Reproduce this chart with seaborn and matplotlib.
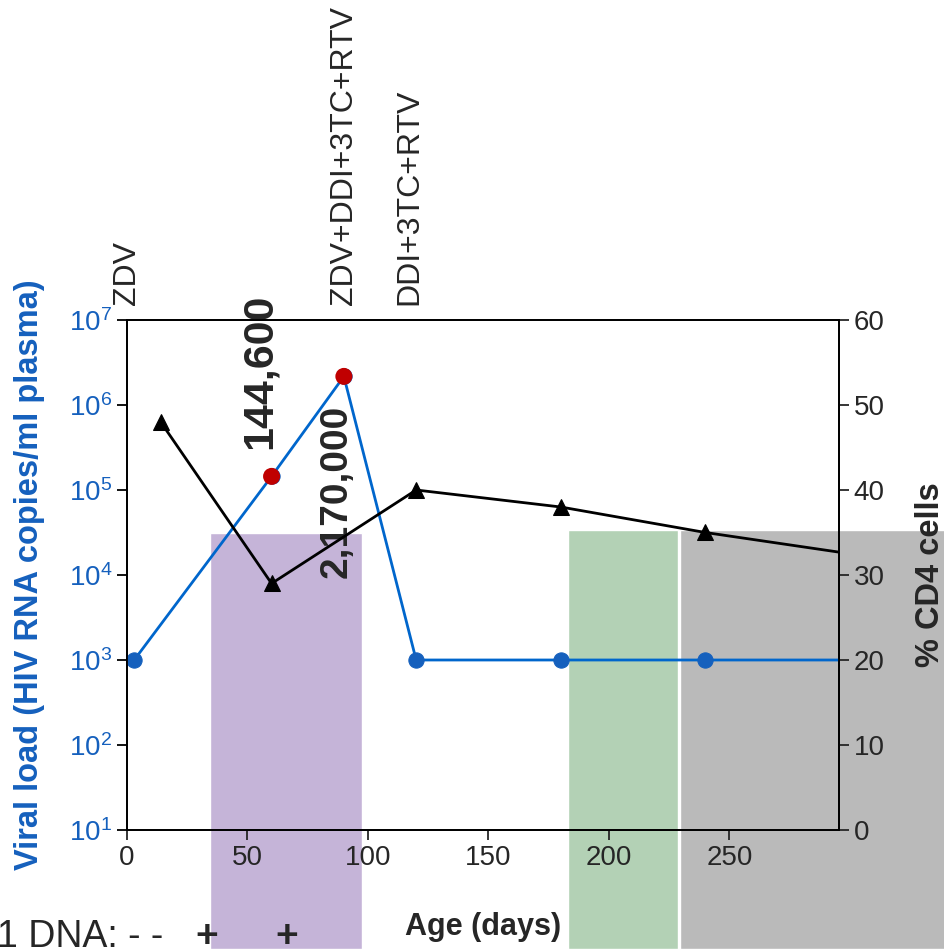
import numpy as np
import pandas as pd
import matplotlib
matplotlib.use("Agg")
import matplotlib.pyplot as plt
from matplotlib.patches import Rectangle
from matplotlib.ticker import LogLocator, LogFormatterSciNotation
import seaborn as sns

# viral load (HIV RNA copies/ml plasma), left log axis
vl_days = [3, 60, 90, 120, 180, 240, 300]
vl_copies = [1000, 144600, 2170000, 1000, 1000, 1000, 1000]
vl_red_days = [60, 90]
vl_red_copies = [144600, 2170000]

# % CD4 cells, right axis
cd4_days = [14, 60, 120, 180, 240, 300]
cd4_pct = [48, 29, 40, 38, 35, 32.5]

# treatment periods (shaded), days and % CD4 top
shade_start = [34.5, 183, 229.5]
shade_end = [97.5, 228.6, 340]
shade_top = [34.9, 35.3, 35.3]
shade_colors = ["#C5B4D8", "#B3D1B5", "#BABABA"]

drug_days = [0, 90, 117]
drug_names = ["ZDV", "ZDV+DDI+3TC+RTV", "DDI+3TC+RTV"]

x_ticks = [0, 50, 100, 150, 200, 250]

sns.set_style("ticks")
plt.rcParams["font.family"] = ["Liberation Sans", "DejaVu Sans"]
plt.rcParams["mathtext.default"] = "regular"

BLUE = "#1560BD"
fig = plt.figure(figsize=(9.44, 9.49), dpi=100)
ax = fig.add_axes([0.1345, 0.1254, 0.7544, 0.5374])
ax2 = ax.twinx()

vl = pd.DataFrame({"day": vl_days, "copies": vl_copies})
cd4 = pd.DataFrame({"day": cd4_days, "pct": cd4_pct})

# shaded periods, drawn behind everything and past the axes
for s, e, t, c in zip(shade_start, shade_end, shade_top, shade_colors):
    ax.add_patch(Rectangle((s, -14), e - s, t + 14, facecolor=c, edgecolor="white",
                           linewidth=1, transform=ax2.transData, clip_on=False, zorder=0))

sns.lineplot(data=vl, x="day", y="copies", ax=ax, color="#0066CC", linewidth=2,
             marker="o", markersize=11, markerfacecolor=BLUE, markeredgecolor=BLUE, zorder=3)
sns.scatterplot(x=vl_red_days, y=vl_red_copies, ax=ax, color="#C00000", s=150,
                edgecolor="none", zorder=4)
sns.lineplot(data=cd4, x="day", y="pct", ax=ax2, color="black", linewidth=2,
             marker="^", markersize=12, markeredgecolor="black")

ax.set_yscale("log")
ax.set_ylim(10, 1e7)
ax.set_xlim(0, 295.5)
ax2.set_ylim(0, 60)
ax.yaxis.set_major_locator(LogLocator(base=10, numticks=10))
ax.yaxis.set_major_formatter(LogFormatterSciNotation())
ax.yaxis.set_minor_locator(plt.NullLocator())
ax.set_xticks(x_ticks)
ax2.set_yticks(range(0, 61, 10))

for a in (ax, ax2):
    for sp in a.spines.values():
        sp.set_visible(True)
        sp.set_linewidth(1.3)
        sp.set_color("black")
ax.tick_params(axis="y", labelsize=20, colors="black", labelcolor=BLUE, length=7, width=1.3)
ax.tick_params(axis="x", labelsize=20, length=7, width=1.3)
ax2.tick_params(axis="y", labelsize=20, length=7, width=1.3)

ax.set_xlabel("Age (days)", fontsize=22, fontweight="bold", labelpad=30)
ax.set_ylabel("Viral load (HIV RNA copies/ml plasma)", fontsize=23.5, fontweight="bold",
              color=BLUE)
ax.yaxis.set_label_coords(-0.115, 0.5)
ax2.set_ylabel("% CD4 cells", fontsize=23.5, fontweight="bold", labelpad=22)

# drug regimens above the plot
for d, name in zip(drug_days, drug_names):
    ax.text(d, 1.03, name, rotation=90, ha="center", va="bottom", fontsize=23,
            transform=ax.get_xaxis_transform())

# value labels
ax.text(55, 10 ** 5.48, "144,600", rotation=90, ha="center", va="bottom",
        fontsize=31, fontweight="bold", zorder=6)
ax.text(87, 10 ** 3.96, "2,170,000", rotation=90, ha="center", va="bottom",
        fontsize=28, fontweight="bold", zorder=6)

fig.text(-0.003, 0.013, "1 DNA: - -", fontsize=27, ha="left", va="center")
fig.text(0.219, 0.013, "+", fontsize=28, fontweight="bold", ha="center", va="center")
fig.text(0.304, 0.013, "+", fontsize=28, fontweight="bold", ha="center", va="center")

fig.savefig("out.png", dpi=100)
